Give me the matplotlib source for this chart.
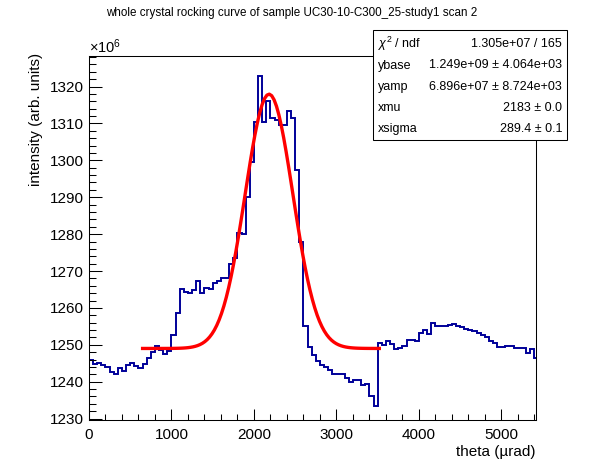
import numpy as np
import matplotlib
matplotlib.use('Agg')
import matplotlib.pyplot as plt
from matplotlib.ticker import MultipleLocator
from matplotlib.patches import Rectangle

plt.rcParams['font.family'] = ['Liberation Sans', 'DejaVu Sans']
plt.rcParams['mathtext.fontset'] = 'custom'
plt.rcParams['mathtext.rm'] = 'Liberation Sans'
plt.rcParams['mathtext.it'] = 'Liberation Sans:italic'

# histogram, bin width 50 urad starting at 0, intensity in units of 1e6
bin_width = 50
intensity = [
    1245.8, 1244.8, 1245.0, 1244.6, 1244.0, 1242.6, 1242.0, 1243.6, 1243.0, 1244.4,
    1245.0, 1244.2, 1243.8, 1244.8, 1246.5, 1248.1, 1249.6, 1248.6, 1247.4, 1248.3,
    1252.7, 1258.5, 1265.0, 1264.3, 1264.0, 1264.8, 1267.3, 1264.0, 1265.5, 1265.0,
    1266.8, 1267.3, 1268.0, 1268.0, 1272.0, 1273.5,
    1280.3, 1280.0, 1290.0, 1299.5, 1310.5, 1323.0, 1310.5, 1316.2, 1311.6, 1310.9,
    1309.5, 1309.7, 1313.5, 1311.5, 1297.5, 1278.0, 1255.0, 1249.5, 1247.3, 1245.7,
    1244.5, 1243.9, 1243.2, 1242.0, 1242.0, 1242.0, 1241.0, 1239.8, 1240.5, 1240.5,
    1239.0, 1239.4, 1236.0, 1233.3, 1250.5, 1250.0, 1250.9, 1250.3, 1248.8, 1249.0,
    1249.6, 1251.2, 1251.2, 1251.0, 1253.2, 1254.0, 1253.0, 1255.9, 1255.2, 1255.0,
    1255.1, 1255.4, 1255.7, 1255.0, 1254.9, 1254.3, 1254.0, 1253.6, 1253.1, 1252.6,
    1252.0, 1251.0, 1250.6, 1249.5, 1249.3, 1249.8, 1249.6, 1249.1, 1249.2, 1249.0,
    1247.9, 1248.8, 1246.4,
]

# gaussian fit parameters (from the stats box)
ybase = 1.249e9
yamp = 6.896e7
xmu = 2183
xsigma = 289.4
fit_range = (650, 3520)

stats_labels = [r'$\chi^{2}$ / ndf', 'ybase', 'yamp', 'xmu', 'xsigma']
stats_values = ['1.305e+07 / 165', u'1.249e+09 \u00b1 4.064e+03',
                u'6.896e+07 \u00b1 8.724e+03', u'2183 \u00b1 0.0', u'289.4 \u00b1 0.1']

W, H = 596, 472
fig = plt.figure(figsize=(W / 100, H / 100), dpi=100)
ax = fig.add_axes([89 / W, 1 - 420 / H, (536 - 89) / W, (420 - 56) / H])

edges = np.arange(len(intensity) + 1) * bin_width
ax.stairs(intensity, edges, baseline=None, color='#000099', linewidth=1.4)

t = np.linspace(fit_range[0], fit_range[1], 100)
g = (ybase + yamp * np.exp(-0.5 * ((t - xmu) / xsigma) ** 2)) / 1e6
ax.plot(t, g, color='#ff0000', linewidth=2.4)

ax.set_xlim(0, 5420)
ax.set_ylim(1229.6, 1328.3)
ax.xaxis.set_major_locator(MultipleLocator(1000))
ax.xaxis.set_minor_locator(MultipleLocator(200))
ax.yaxis.set_major_locator(MultipleLocator(10))
ax.yaxis.set_minor_locator(MultipleLocator(2))
ax.tick_params(which='both', direction='in', top=False, right=False, width=0.75, labelsize=11)
ax.tick_params(axis='x', which='major', length=7.9, pad=6)
ax.tick_params(axis='x', which='minor', length=4.0)
ax.tick_params(axis='y', which='major', length=9.5, pad=4)
ax.tick_params(axis='y', which='minor', length=4.8)
for s in ax.spines.values():
    s.set_linewidth(0.75)

fig.text(89 / W, 1 - 47 / H, r'$\times10^{6}$', fontsize=10.5, ha='left', va='center')
fig.text(36 / W, 1 - 53 / H, 'intensity (arb. units)', rotation=90, fontsize=11,
         ha='center', va='top')
fig.text(536 / W, 1 - 452 / H, u'theta (\u00b5rad)', fontsize=11, ha='right', va='center')
fig.text(292 / W, 1 - 13 / H,
         'whole crystal rocking curve of sample UC30-10-C300_25-study1 scan 2',
         fontsize=8.35, ha='center', va='center')

# stats box
fig.patches.append(Rectangle((373 / W, 1 - 140 / H), (567 - 373) / W, 110 / H,
                             transform=fig.transFigure, facecolor='white',
                             edgecolor='black', linewidth=0.75, zorder=5))
row_y = [44, 65.5, 86.7, 108.3, 129]
for lab, val, yy in zip(stats_labels, stats_values, row_y):
    fig.text(378 / W, 1 - yy / H, lab, fontsize=9.0, ha='left', va='center', zorder=6)
    fig.text(562 / W, 1 - yy / H, val, fontsize=9.0, ha='right', va='center', zorder=6)

fig.savefig('out.png', dpi=100)
